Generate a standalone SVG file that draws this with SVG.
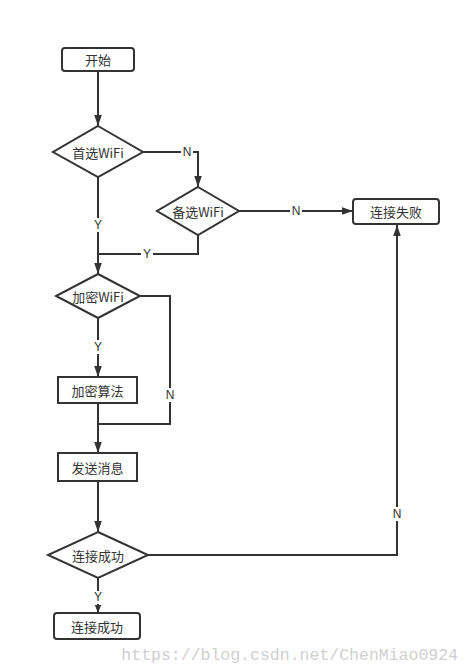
<svg xmlns="http://www.w3.org/2000/svg" width="470" height="671" viewBox="0 0 470 671">
<style>
.shape{fill:#fff;stroke:#333;stroke-width:2}
.edge{fill:none;stroke:#333;stroke-width:2}
.t{font-family:"Noto Sans CJK SC","Liberation Sans",sans-serif;font-size:13px;fill:#333;text-anchor:middle;dominant-baseline:central}
.lbl{font-family:"Liberation Sans",sans-serif;font-size:12px;fill:#333;text-anchor:middle;dominant-baseline:central}
.lbg{fill:#fff}
</style>
<defs>
<marker id="arr" markerUnits="userSpaceOnUse" markerWidth="11" markerHeight="16" refX="16" refY="5.5" orient="auto" viewBox="0 0 16 11">
<path d="M0,0 L16,5.5 L0,11 z" fill="#333"/>
</marker>
<marker id="arrs" markerUnits="userSpaceOnUse" markerWidth="8" markerHeight="10" refX="10" refY="4" orient="auto" viewBox="0 0 10 8">
<path d="M0,0 L10,4 L0,8 z" fill="#333"/>
</marker>
</defs>
<rect width="470" height="671" fill="#fff"/>
<g id="edges">
<path class="edge" d="M98,71 V126" marker-end="url(#arr)"/>
<path class="edge" d="M143,152 H198 V187" marker-end="url(#arr)"/>
<path class="edge" d="M98,177 V274" marker-end="url(#arr)"/>
<path class="edge" d="M239,211 H353" marker-end="url(#arr)"/>
<path class="edge" d="M198,235 V254 H98"/>
<path class="edge" d="M98,318 V377" marker-end="url(#arr)"/>
<path class="edge" d="M140,296 H170 V424 H98"/>
<path class="edge" d="M98,403 V453" marker-end="url(#arr)"/>
<path class="edge" d="M98,481 V532" marker-end="url(#arr)"/>
<path class="edge" d="M148,555 H397 V225" marker-end="url(#arr)"/>
<path class="edge" d="M98,578 V613" marker-end="url(#arrs)"/>
<rect class="lbg" x="181" y="145" width="12" height="14"/><text class="lbl" x="187" y="152">N</text>
<rect class="lbg" x="290" y="204" width="12" height="14"/><text class="lbl" x="296" y="211">N</text>
<rect class="lbg" x="92" y="218" width="12" height="14"/><text class="lbl" x="98" y="225">Y</text>
<rect class="lbg" x="141" y="247" width="12" height="14"/><text class="lbl" x="147" y="254">Y</text>
<rect class="lbg" x="92" y="340" width="12" height="14"/><text class="lbl" x="98" y="347">Y</text>
<rect class="lbg" x="164" y="388" width="12" height="14"/><text class="lbl" x="170" y="395">N</text>
<rect class="lbg" x="391" y="507" width="12" height="14"/><text class="lbl" x="397" y="514">N</text>
<rect class="lbg" x="93" y="591" width="10" height="13"/><text class="lbl" x="98" y="597">Y</text>
</g>
<g id="start"><rect class="shape" x="62" y="48" width="72" height="23" rx="3"/><text class="t" x="98" y="59.5">开始</text></g>
<g id="wifi1"><path class="shape" d="M98,126 L143,152 L98,177 L53,152 z"/><text class="t" x="98" y="152">首选WiFi</text></g>
<g id="wifi2"><path class="shape" d="M198,187 L239,211 L198,235 L157,211 z"/><text class="t" x="198" y="211">备选WiFi</text></g>
<g id="fail"><rect class="shape" x="353" y="199" width="86" height="25" rx="3"/><text class="t" x="396" y="211.5">连接失败</text></g>
<g id="enc"><path class="shape" d="M98,274 L140,296 L98,318 L56,296 z"/><text class="t" x="98" y="296">加密WiFi</text></g>
<g id="algo"><rect class="shape" x="58" y="377" width="79" height="26"/><text class="t" x="97.5" y="390">加密算法</text></g>
<g id="send"><rect class="shape" x="58" y="453" width="79" height="28"/><text class="t" x="97.5" y="467">发送消息</text></g>
<g id="check"><path class="shape" d="M98,532 L148,555 L98,578 L48,555 z"/><text class="t" x="98" y="555">连接成功</text></g>
<g id="ok"><rect class="shape" x="54" y="613" width="86" height="26" rx="3"/><text class="t" x="97" y="626">连接成功</text></g>
<text x="458" y="660" font-family="'Liberation Mono',monospace" font-size="16.5" fill="#d0d0d0" text-anchor="end">https://blog.csdn.net/ChenMiao0924</text>
</svg>
